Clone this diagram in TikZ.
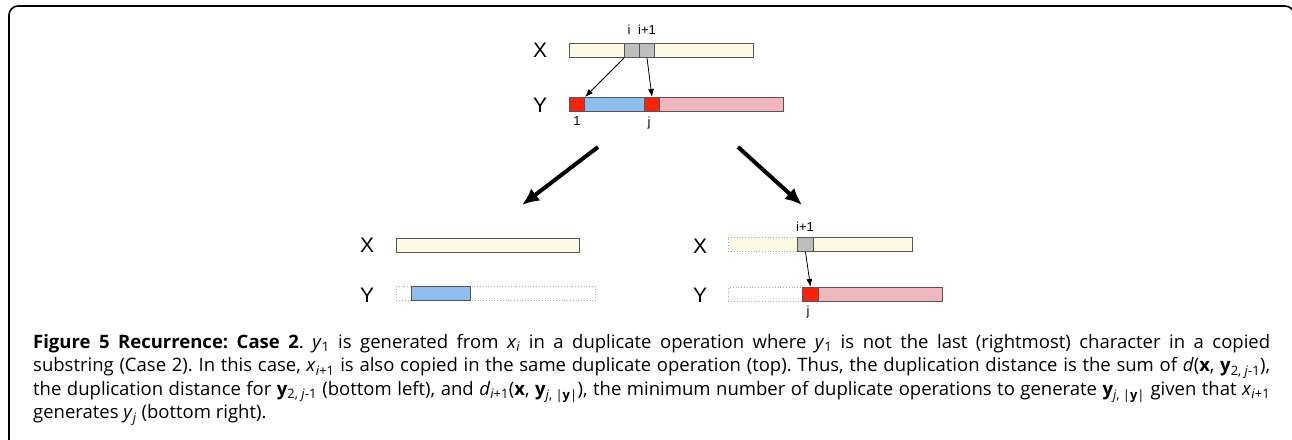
\documentclass[tikz,border=0pt]{standalone}
\usepackage{fontspec}
\setmainfont{Open Sans}
\newfontfamily\diafont{Liberation Sans}
\usetikzlibrary{arrows.meta}
\definecolor{cream}{RGB}{254,249,228}
\definecolor{cellgray}{RGB}{190,190,190}
\definecolor{cellred}{RGB}{250,34,10}
\definecolor{cellblue}{RGB}{141,190,240}
\definecolor{cellpink}{RGB}{242,183,190}
\definecolor{edgegray}{RGB}{85,85,85}

\begin{document}
\begin{tikzpicture}[x=1pt,y=-1pt,
  cell/.style={draw=edgegray,line width=1pt,inner sep=0pt,minimum height=14pt,anchor=north west},
  ghost/.style={draw=gray!70,dotted,line width=0.8pt,inner sep=0pt,minimum height=14pt,anchor=north west},
  lbl/.style={font=\diafont\fontsize{21}{21}\selectfont},
  idx/.style={font=\diafont\fontsize{13}{13}\selectfont,inner sep=0pt},
  thin/.style={-{Latex[length=8pt,width=6pt]},line width=0.8pt},
  bigarrow/.style={-{Latex[length=17pt,width=15pt]},line width=4pt}]
\useasboundingbox (0,0) rectangle (1292,439);
\begin{scope}
\clip (0,0) rectangle (1292,439);
\draw[line width=1.6pt,rounded corners=9pt] (9,450) -- (9,6) -- (1294,6) -- (1294,450);
\end{scope}
% top
\node[lbl] (tx) at (540,50) {X};
\node[lbl] (ty) at (540,105) {Y};
\node[cell,fill=cream,minimum width=184] (txbar) at (569,43) {};
\node[cell,fill=cellgray,minimum width=15] (txi) at (624,43) {};
\node[cell,fill=cellgray,minimum width=15] (txj) at (639,43) {};
\node[idx] (ti) at (629,30) {i};
\node[idx] (tip) at (647,30) {i+1};
\node[cell,fill=cellpink,minimum width=124] (typink) at (659,97) {};
\node[cell,fill=cellblue,minimum width=60] (tyblue) at (584,97) {};
\node[cell,fill=cellred,minimum width=15] (tyone) at (569,97) {};
\node[cell,fill=cellred,minimum width=15] (tyj) at (644,97) {};
\node[idx] (tone) at (577,121) {1};
\node[idx] (tj) at (649,123) {j};
\draw[thin] (txi.south west) -- (tyone.north east);
\draw[thin] (txj.south) -- (tyj.north);
\coordinate (la) at (598,147);
\coordinate (lb) at (522,205);
\coordinate (ra) at (738,147);
\coordinate (rb) at (802,205);
\draw[bigarrow] (la) -- (lb);
\draw[bigarrow] (ra) -- (rb);
% bottom left
\node[lbl] (lx) at (367,245) {X};
\node[lbl] (ly) at (367,295) {Y};
\node[cell,fill=cream,minimum width=183] (lxbar) at (396,238) {};
\node[ghost,minimum width=199] (lyrest) at (396,286) {};
\node[cell,fill=cellblue,minimum width=59] (lyblue) at (411,286) {};
% bottom right
\node[lbl] (rx) at (700,246) {X};
\node[lbl] (ry) at (700,295) {Y};
\node[ghost,fill=cream,minimum width=69] (rxrest) at (728,237) {};
\node[cell,fill=cream,minimum width=99] (rxbar) at (813,237) {};
\node[cell,fill=cellgray,minimum width=16] (rxi) at (797,237) {};
\node[idx] (rip) at (805,227) {i+1};
\node[ghost,minimum width=74] (ryrest) at (728,287) {};
\node[cell,fill=cellpink,minimum width=124] (rypink) at (818,287) {};
\node[cell,fill=cellred,minimum width=16] (ryj) at (802,287) {};
\node[idx] (rj) at (808,312) {j};
\draw[thin] (rxi.south) -- (ryj.north);
% caption
\node[anchor=north west,inner sep=0pt,text width=1237pt,align=justify,
  font=\fontsize{18.5}{23.4}\selectfont] (cap) at (33,334) {\frenchspacing\hyphenpenalty=10000\exhyphenpenalty=10000
{\bfseries Figure 5 Recurrence: Case 2}. \textit{y}\textsubscript{1} is generated from \textit{x}\textsubscript{\textit{i}} in a duplicate operation where \textit{y}\textsubscript{1} is not the last (rightmost) character in a copied\linebreak
substring (Case 2). In this case, \textit{x}\textsubscript{\textit{i}+1} is also copied in the same duplicate operation (top). Thus, the duplication distance is the sum of \textit{d}(\textbf{x}, \textbf{y}\textsubscript{2, \textit{j}-1}),\linebreak
the duplication distance for \textbf{y}\textsubscript{2, \textit{j}-1} (bottom left), and \textit{d}\textsubscript{\textit{i}+1}(\textbf{x}, \textbf{y}\textsubscript{\textit{j}, |\textbf{y}|}), the minimum number of duplicate operations to generate \textbf{y}\textsubscript{\textit{j}, |\textbf{y}|} given that \textit{x}\textsubscript{\textit{i}+1}\linebreak
generates \textit{y}\textsubscript{\textit{j}} (bottom right).};
\end{tikzpicture}
\end{document}
